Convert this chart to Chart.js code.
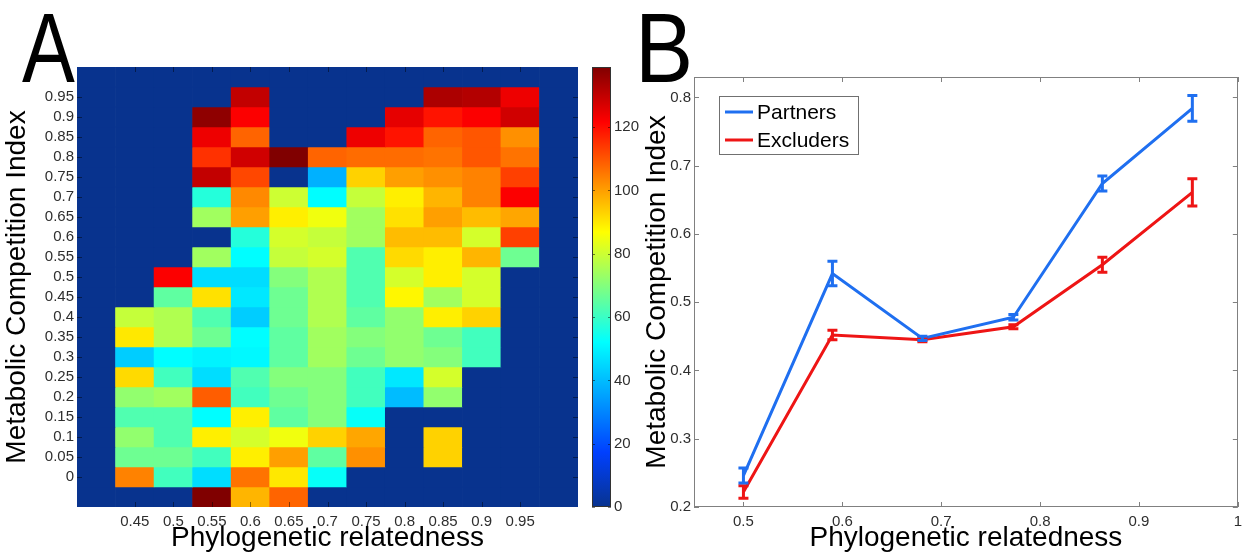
<!DOCTYPE html>
<html><head><meta charset="utf-8">
<script src="https://cdn.jsdelivr.net/npm/chart.js@4.4.1/dist/chart.umd.min.js"></script>
<style>
html,body{margin:0;padding:0;background:#fff;width:1248px;height:557px;overflow:hidden;}
.c{position:absolute;top:0;}
.big{position:absolute;font-family:"Liberation Sans",Arial,sans-serif;font-size:99px;line-height:99px;color:#000;z-index:5;transform-origin:0 0;}
</style></head><body>
<div class="c" style="left:0;width:585px;height:557px"><canvas id="heat"></canvas></div>
<div class="c" style="left:585px;width:55px;height:557px"><canvas id="cbar"></canvas></div>
<div class="c" style="left:640px;width:608px;height:557px"><canvas id="line"></canvas></div>
<div class="big" style="left:22px;top:-2px;transform:scaleX(0.8)">A</div>
<div class="big" style="left:635px;top:-2px;transform:scaleX(0.88)">B</div>
<script>
// ---------- Panel A data (heatmap) ----------
const colValues = [0.4,0.45,0.5,0.55,0.6,0.65,0.7,0.75,0.8,0.85,0.9,0.95,1.0];
const xTickLabels = ['','0.45','0.5','0.55','0.6','0.65','0.7','0.75','0.8','0.85','0.9','0.95',''];
const rowValues = [1.0,0.95,0.9,0.85,0.8,0.75,0.7,0.65,0.6,0.55,0.5,0.45,0.4,0.35,0.3,0.25,0.2,0.15,0.1,0.05,0.0,-0.05];
const yTickValues = [0,0.05,0.1,0.15,0.2,0.25,0.3,0.35,0.4,0.45,0.5,0.55,0.6,0.65,0.7,0.75,0.8,0.85,0.9,0.95];
const yTickLabels = ['0','0.05','0.1','0.15','0.2','0.25','0.3','0.35','0.4','0.45','0.5','0.55','0.6','0.65','0.7','0.75','0.8','0.85','0.9','0.95'];
const cellCounts = [
  [0,0,0,0,0,0,0,0,0,0,0,0,0],
  [0,0,0,0,130,0,0,0,0,133,132,124,0],
  [0,0,0,137,122,0,0,0,125,119,122,128,0],
  [0,0,0,124,108,0,0,124,119,108,110,102,0],
  [0,0,0,115,128,139,108,107,107,106,110,106,0],
  [0,0,0,130,112,0,38,93,100,102,104,113,0],
  [0,0,0,57,103,80,52,79,89,97,104,122,0],
  [0,0,0,74,100,89,85,74,91,100,96,99,0],
  [0,0,0,0,57,81,79,74,96,96,81,113,0],
  [0,0,0,74,52,79,81,63,92,89,97,67,0],
  [0,0,122,46,46,70,76,63,81,89,81,0,0],
  [0,0,65,91,48,67,76,63,88,74,81,0,0],
  [0,79,76,63,43,67,76,65,72,89,93,0,0],
  [0,90,76,67,52,65,74,70,72,67,61,0,0],
  [0,43,52,50,51,65,74,67,72,70,61,0,0],
  [0,92,61,46,63,70,70,61,48,81,0,0,0],
  [0,72,74,109,61,67,70,61,40,72,0,0,0],
  [0,63,63,52,89,65,70,53,0,0,0,0,0],
  [0,72,63,89,81,85,93,99,0,93,0,0,0],
  [0,67,67,61,89,100,65,102,0,93,0,0,0],
  [0,104,61,46,106,90,53,0,0,0,0,0,0],
  [0,0,0,139,97,108,0,0,0,0,0,0,0]
];
const cMax = 139;
const cbTickValues = [0,20,40,60,80,100,120];

// ---------- Panel B data ----------
const relatedness   = [0.5, 0.59, 0.681, 0.773, 0.863, 0.954];
const partnersMean  = [0.246, 0.542, 0.447, 0.478, 0.674, 0.784];
const partnersErr   = [0.011, 0.018, 0.003, 0.004, 0.011, 0.019];
const excludersMean = [0.222, 0.452, 0.445, 0.464, 0.555, 0.661];
const excludersErr  = [0.009, 0.007, 0.003, 0.003, 0.011, 0.020];
const xTicksB = [0.5,0.6,0.7,0.8,0.9,1.0];
const xTickLabelsB = ['0.5','0.6','0.7','0.8','0.9','1'];
const yTicksB = [0.2,0.3,0.4,0.5,0.6,0.7,0.8];
const yTickLabelsB = ['0.2','0.3','0.4','0.5','0.6','0.7','0.8'];

// ---------- styling ----------
const FONT = '"Liberation Sans", Arial, Helvetica, sans-serif';
const TICKC = '#2e2e2e';
const BLUE = '#1f6ff0', RED = '#ee1515';
const cmapStops = [[0,'#08338e'],[0.125,'#0040ff'],[0.375,'#00ffff'],[0.5,'#80ff80'],[0.625,'#ffff00'],[0.75,'#ff8000'],[0.875,'#ff0000'],[1,'#800000']];
function hex2rgb(h){return [parseInt(h.slice(1,3),16),parseInt(h.slice(3,5),16),parseInt(h.slice(5,7),16)];}
function cmap(v){
  v = Math.max(0, Math.min(1, v));
  for (let i=1;i<cmapStops.length;i++){
    if (v <= cmapStops[i][0]){
      const [a,ca]=cmapStops[i-1],[b,cb]=cmapStops[i];
      const t=(v-a)/(b-a), A=hex2rgb(ca), B=hex2rgb(cb);
      return 'rgb('+A.map((x,k)=>Math.round(x+(B[k]-x)*t)).join(',')+')';
    }
  }
  return cmapStops[cmapStops.length-1][1];
}

const innerTicks = {
  id:'innerTicks',
  afterDraw(chart, args, o){
    const {ctx, chartArea:a, scales} = chart;
    ctx.save(); ctx.lineWidth = 1;
    if (o.color){
      ctx.strokeStyle = o.color; ctx.beginPath();
      if (!o.noX){
        const xs = scales.x;
        xs.ticks.forEach((t,i)=>{
          if (o.skipX && o.skipX(i)) return;
          const p = Math.round(xs.getPixelForTick(i))+0.5;
          ctx.moveTo(p,a.bottom); ctx.lineTo(p,a.bottom-o.len);
          ctx.moveTo(p,a.top); ctx.lineTo(p,a.top+o.len);
        });
      }
      const ys = scales.y;
      ys.ticks.forEach((t,i)=>{
        const p = Math.round(ys.getPixelForTick(i))+0.5;
        ctx.moveTo(a.left,p); ctx.lineTo(a.left+o.len,p);
        ctx.moveTo(a.right,p); ctx.lineTo(a.right-o.len,p);
      });
      ctx.stroke();
    }
    if (o.box){
      ctx.strokeStyle = o.box;
      ctx.strokeRect(Math.round(a.left)+0.5, Math.round(a.top)+0.5, Math.round(a.right-a.left)-1, Math.round(a.bottom-a.top)-1);
    }
    ctx.restore();
  }
};

// ---------- Panel A: heatmap ----------
const halfRow = 0.025;
const heatDatasets = rowValues.map((yv, r) => ({
  data: cellCounts[r].map(() => [yv - halfRow, yv + halfRow]),
  counts: cellCounts[r],
  backgroundColor: c => cmap(c.dataset.counts[c.dataIndex] / cMax),
  borderWidth: 0, grouped: false, barPercentage: 1, categoryPercentage: 1
}));
new Chart(document.getElementById('heat'), {
  type: 'bar',
  data: { labels: colValues.map(String), datasets: heatDatasets },
  options: {
    responsive: true, maintainAspectRatio: false, animation: false,
    layout: { padding: { top: 67, right: 7, bottom: 2, left: 0 } },
    plugins: { legend: { display: false }, tooltip: { enabled: false },
      innerTicks: { color: 'rgba(0,0,0,0.45)', len: 5, skipX: i => xTickLabels[i] === '' } },
    scales: {
      x: { type: 'category', grid: { display: false, drawTicks: false }, border: { display: false },
        ticks: { autoSkip: false, maxRotation: 0, padding: 6, color: TICKC, font: { family: FONT, size: 15 },
          callback: (v, i) => xTickLabels[i] },
        title: { display: true, text: 'Phylogenetic relatedness', color: '#000', font: { family: FONT, size: 28 }, padding: { top: 0, bottom: 0 } },
        afterFit: s => { s.height = 48; } },
      y: { type: 'linear', min: -0.075, max: 1.025, grid: { display: false, drawTicks: false }, border: { display: false },
        afterBuildTicks: s => { s.ticks = yTickValues.map(v => ({ value: v })); },
        ticks: { autoSkip: false, padding: 3, color: TICKC, font: { family: FONT, size: 15 },
          callback: (v, i) => yTickLabels[i] },
        title: { display: true, text: 'Metabolic Competition Index', color: '#000', font: { family: FONT, size: 28 }, padding: { top: 0, bottom: 0 } },
        afterFit: s => { s.width = 77; } }
    }
  },
  plugins: [innerTicks]
});

// ---------- Colorbar ----------
new Chart(document.getElementById('cbar'), {
  type: 'bar',
  data: { labels: ['c'], datasets: [{
    data: [[0, cMax]], borderWidth: 0, barPercentage: 1, categoryPercentage: 1,
    backgroundColor: c => {
      const ca = c.chart.chartArea; if (!ca) return '#000080';
      const g = c.chart.ctx.createLinearGradient(0, ca.bottom, 0, ca.top);
      cmapStops.forEach(([p, col]) => g.addColorStop(p, col));
      return g;
    } }] },
  options: {
    responsive: true, maintainAspectRatio: false, animation: false,
    layout: { padding: { top: 67, right: 0, bottom: 50, left: 7 } },
    plugins: { legend: { display: false }, tooltip: { enabled: false },
      innerTicks: { color: 'rgba(0,0,0,0.5)', len: 3, noX: true, box: '#333' } },
    scales: {
      x: { display: false },
      y: { position: 'right', min: 0, max: cMax, grid: { display: false, drawTicks: false }, border: { display: false },
        afterBuildTicks: s => { s.ticks = cbTickValues.map(v => ({ value: v })); },
        ticks: { padding: 3, color: TICKC, font: { family: FONT, size: 15 } },
        afterFit: s => { s.width = 29; } }
    }
  },
  plugins: [innerTicks]
});

// ---------- Panel B: lines with error bars ----------
const errorBars = {
  id: 'errorBars',
  afterDatasetsDraw(chart, args, o) {
    const { ctx, scales: { x, y } } = chart;
    ctx.save(); ctx.lineWidth = o.width; ctx.lineCap = 'butt';
    chart.data.datasets.slice().reverse().forEach(ds => {
      ctx.strokeStyle = ds.borderColor;
      ds.data.forEach((pt, i) => {
        const e = ds.errors[i];
        const px = x.getPixelForValue(pt.x), y1 = y.getPixelForValue(pt.y - e), y2 = y.getPixelForValue(pt.y + e);
        ctx.beginPath();
        ctx.moveTo(px, y1); ctx.lineTo(px, y2);
        ctx.moveTo(px - o.cap, y1); ctx.lineTo(px + o.cap, y1);
        ctx.moveTo(px - o.cap, y2); ctx.lineTo(px + o.cap, y2);
        ctx.stroke();
      });
    });
    ctx.restore();
  }
};
const boxLegend = {
  id: 'boxLegend',
  afterDraw(chart, args, o) {
    const { ctx, chartArea: a } = chart;
    const x = Math.round(a.left + o.dx), y = Math.round(a.top + o.dy);
    ctx.save();
    ctx.fillStyle = '#fff'; ctx.fillRect(x, y, o.w, o.h);
    ctx.strokeStyle = '#707070'; ctx.lineWidth = 1; ctx.strokeRect(x + 0.5, y + 0.5, o.w, o.h);
    ctx.font = o.size + 'px ' + FONT; ctx.textBaseline = 'middle'; ctx.textAlign = 'left';
    chart.data.datasets.forEach((ds, i) => {
      const cy = y + o.firstRow + i * o.rowH;
      ctx.strokeStyle = ds.borderColor; ctx.lineWidth = 3;
      ctx.beginPath(); ctx.moveTo(x + 6, cy); ctx.lineTo(x + 6 + o.lineLen, cy); ctx.stroke();
      ctx.fillStyle = '#000'; ctx.fillText(ds.label, x + 10 + o.lineLen, cy + 1);
    });
    ctx.restore();
  }
};
new Chart(document.getElementById('line'), {
  type: 'line',
  data: { datasets: [
    { label: 'Partners', data: relatedness.map((x, i) => ({ x, y: partnersMean[i] })), errors: partnersErr,
      borderColor: BLUE, backgroundColor: BLUE, borderWidth: 3, pointRadius: 0, tension: 0, fill: false },
    { label: 'Excluders', data: relatedness.map((x, i) => ({ x, y: excludersMean[i] })), errors: excludersErr,
      borderColor: RED, backgroundColor: RED, borderWidth: 3, pointRadius: 0, tension: 0, fill: false }
  ] },
  options: {
    responsive: true, maintainAspectRatio: false, animation: false,
    layout: { padding: { top: 77, right: 5, bottom: 2, left: 0 } },
    plugins: { legend: { display: false }, tooltip: { enabled: false },
      errorBars: { width: 3, cap: 5 },
      innerTicks: { color: '#808080', len: 5, box: '#808080' },
      boxLegend: { dx: 25, dy: 19, w: 139, h: 58, firstRow: 16, rowH: 28, lineLen: 28, size: 21 } },
    scales: {
      x: { type: 'linear', min: 0.45, max: 1.0, grid: { display: false, drawTicks: false }, border: { display: false },
        afterBuildTicks: s => { s.ticks = xTicksB.map(v => ({ value: v })); },
        ticks: { autoSkip: false, maxRotation: 0, padding: 6, color: TICKC, font: { family: FONT, size: 15 },
          callback: (v, i) => xTickLabelsB[i] },
        title: { display: true, text: 'Phylogenetic relatedness', color: '#000', font: { family: FONT, size: 28 }, padding: { top: 0, bottom: 0 } },
        afterFit: s => { s.height = 48; } },
      y: { type: 'linear', min: 0.2, max: 0.83, grid: { display: false, drawTicks: false }, border: { display: false },
        afterBuildTicks: s => { s.ticks = yTicksB.map(v => ({ value: v })); },
        ticks: { autoSkip: false, padding: 3, color: TICKC, font: { family: FONT, size: 15 },
          callback: (v, i) => yTickLabelsB[i] },
        title: { display: true, text: 'Metabolic Competition Index', color: '#000', font: { family: FONT, size: 28 }, padding: { top: 0, bottom: 0 } },
        afterFit: s => { s.width = 54; } }
    }
  },
  plugins: [errorBars, innerTicks, boxLegend]
});
</script>
</body></html>
